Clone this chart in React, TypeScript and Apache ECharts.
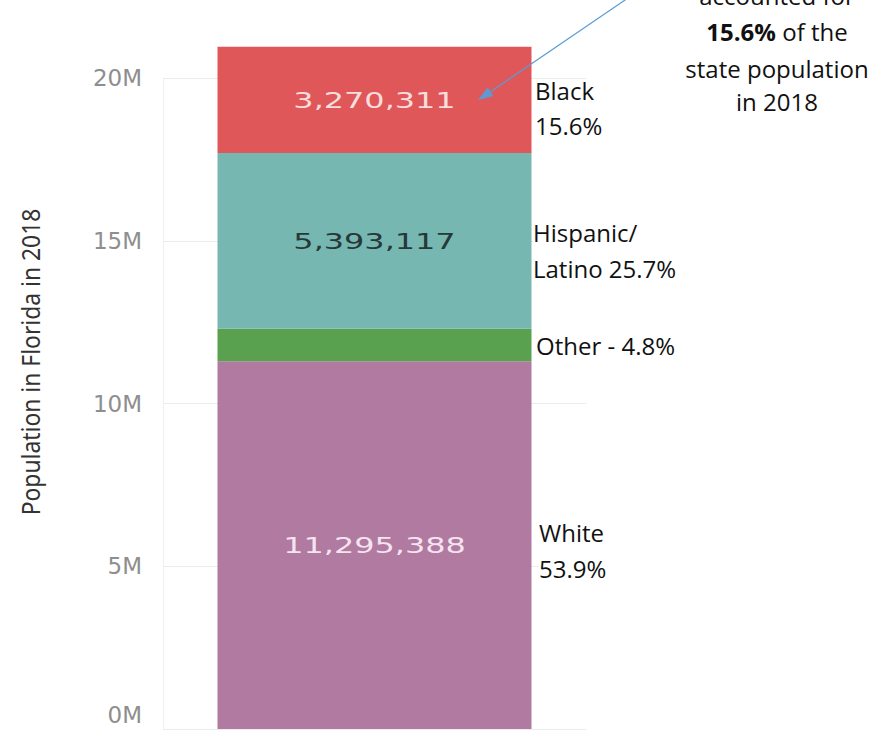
import React, { useEffect, useRef } from "react";
import * as echarts from "echarts";

// ---- data ----
const categories = ["Florida 2018"];
const groupNames = ["White", "Other", "Hispanic/Latino", "Black"];
const whiteValues = [11295388];
const otherValues = [1004000];
const hispanicValues = [5393117];
const blackValues = [3270311];
const groupColors = ["#b07aa1", "#59a14f", "#76b7b2", "#e05759"];
const valueLabelColors = ["#f4e4f0", "", "#263838", "#f8dede"];
const showValueLabel = [true, false, true, true];
const yTickValues = [0, 5000000, 10000000, 15000000, 20000000];
const yTickLabels = ["0M", "5M", "10M", "15M", "20M"];
const sideLabels = [
  ["White", "53.9%"],
  ["Other - 4.8%"],
  ["Hispanic/", "Latino 25.7%"],
  ["Black", "15.6%"],
];
const noteLines = ["accounted for", "{b|15.6%} of the", "state population", "in 2018"];
const yAxisTitle = "Population in Florida in 2018";

const seriesValues = [whiteValues, otherValues, hispanicValues, blackValues];

export default function App() {
  const ref = useRef<HTMLDivElement>(null);

  useEffect(() => {
    if (!ref.current) return;
    const chart = echarts.init(ref.current, undefined, { renderer: "svg" });

    // segment boundaries for the value labels
    const segs: any[] = [];
    let acc = 0;
    seriesValues.forEach((vals, i) => {
      const start = acc;
      const end = acc + vals[0];
      acc = end;
      if (showValueLabel[i]) segs.push({ value: [0, start, end], idx: i });
    });

    const tickFont = "'DejaVu Sans', sans-serif";
    const sideFont = "'Open Sans', 'Noto Sans', sans-serif";

    const sidePos = [
      { x: 539, baselines: [542, 578], bg: true },
      { x: 536, baselines: [355], bg: false },
      { x: 533, baselines: [242, 278], bg: true },
      { x: 535, baselines: [100, 135], bg: false },
    ];
    const sideGraphics: any[] = [];
    sideLabels.forEach((lines, i) => {
      lines.forEach((t, j) => {
        sideGraphics.push({
          type: "text",
          z: 100,
          x: sidePos[i].x,
          y: sidePos[i].baselines[j] - 10,
          style: {
            text: t,
            fontSize: 24,
            fontFamily: sideFont,
            fill: "#111",
            align: "left",
            verticalAlign: "middle",
            lineHeight: 26,
            backgroundColor: sidePos[i].bg ? "#ffffff" : undefined,
          },
        });
      });
    });

    const noteBaselines = [4, 40, 77, 110];
    const noteGraphics = noteLines.map((t, i) => ({
      type: "text",
      z: 100,
      x: 777,
      y: noteBaselines[i] - 9,
      style: {
        text: t,
        fontSize: 24,
        fontFamily: sideFont,
        fill: "#111",
        align: "center",
        verticalAlign: "middle",
        rich: {
          b: { fontSize: 24, fontFamily: sideFont, fontWeight: "bold", fill: "#111" },
        },
      },
    }));

    const option: any = {
      animation: false,
      backgroundColor: "#ffffff",
      grid: { left: 163, right: 298, top: 78, bottom: 6, containLabel: false },
      xAxis: {
        type: "category",
        data: categories,
        show: false,
      },
      yAxis: {
        type: "value",
        min: 0,
        max: 20000000,
        interval: 5000000,
        axisLine: { show: true, lineStyle: { color: "#f0f0f0", width: 1 } },
        axisTick: { show: false },
        splitLine: { show: true, lineStyle: { color: "#ececec", width: 1 } },
        axisLabel: {
          margin: 21,
          fontSize: 23,
          fontFamily: tickFont,
          color: "#8e8e8e",
          formatter: (v: number) => {
            const i = yTickValues.indexOf(v);
            const t = i >= 0 ? yTickLabels[i] : "";
            return v === 0 ? `{z|${t}}` : t;
          },
          rich: {
            z: {
              fontSize: 23,
              fontFamily: tickFont,
              color: "#8e8e8e",
              padding: [0, 0, 28, 0],
            },
          },
        },
      },
      series: [
        ...seriesValues.map((vals, i) => ({
          name: groupNames[i],
          type: "bar",
          stack: "total",
          barWidth: 314,
          clip: false,
          silent: true,
          itemStyle: { color: groupColors[i] },
          data: vals,
        })),
        {
          type: "custom",
          silent: true,
          clip: false,
          z: 10,
          data: segs.map((s) => s.value),
          renderItem: (params: any, api: any) => {
            const s = segs[params.dataIndex];
            const mid = (api.value(1) + api.value(2)) / 2;
            const p = api.coord([api.value(0), mid]);
            const vals = seriesValues[s.idx];
            return {
              type: "text",
              x: p[0],
              y: p[1],
              scaleX: 1.45,
              style: {
                text: vals[0].toLocaleString("en-US"),
                fontSize: 22,
                fontFamily: tickFont,
                fill: valueLabelColors[s.idx],
                align: "center",
                verticalAlign: "middle",
              },
            };
          },
        },
      ],
      graphic: [
        {
          type: "text",
          z: 100,
          x: 30,
          y: 362,
          rotation: Math.PI / 2,
          scaleX: 0.88,
          style: {
            text: yAxisTitle,
            fontSize: 26,
            fontFamily: "'Noto Sans', sans-serif",
            fill: "#333",
            align: "center",
            verticalAlign: "middle",
          },
        },
        ...sideGraphics,
        ...noteGraphics,
        {
          type: "line",
          z: 100,
          shape: { x1: 628, y1: -2, x2: 490.5, y2: 91.7 },
          style: { stroke: "#5b9bd5", lineWidth: 1.2 },
        },
        {
          type: "polygon",
          z: 100,
          shape: { points: [[478, 100], [493.3, 95.9], [487.7, 87.5]] },
          style: { fill: "#5b9bd5" },
        },
      ],
    };

    chart.setOption(option);
    return () => chart.dispose();
  }, []);

  return (
    <div
      ref={ref}
      style={{ position: "fixed", left: 0, top: 0, width: 884, height: 735, background: "#fff" }}
    />
  );
}
